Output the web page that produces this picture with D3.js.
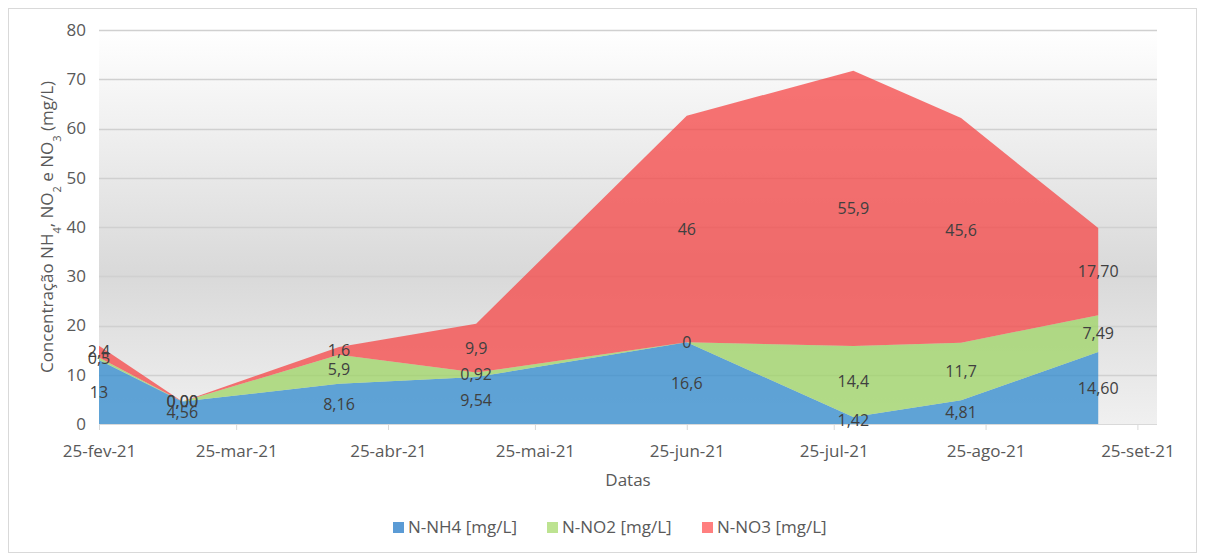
<!DOCTYPE html>
<html><head><meta charset="utf-8">
<script src="https://cdn.jsdelivr.net/npm/d3@7"></script>
<style>body{margin:0;background:#fff;} svg{display:block;font-family:"Open Sans",sans-serif;}</style>
</head><body>
<svg id="c" width="1205" height="554"></svg>
<script>
const dates = ["2021-02-25","2021-03-14","2021-04-15","2021-05-13","2021-06-25","2021-07-29","2021-08-20","2021-09-17"];
const nh4 = [13, 4.56, 8.16, 9.54, 16.6, 1.42, 4.81, 14.60];
const no2 = [0.5, 0.00, 5.9, 0.92, 0, 14.4, 11.7, 7.49];
const no3 = [2.4, 0.00, 1.6, 9.9, 46, 55.9, 45.6, 17.70];
const nh4Labels = ["13","4,56","8,16","9,54","16,6","1,42","4,81","14,60"];
const no2Labels = ["0,5","0,00","5,9","0,92","0","14,4","11,7","7,49"];
const no3Labels = ["2,4","0,00","1,6","9,9","46","55,9","45,6","17,70"];
const seriesNames = ["N-NH4 [mg/L]","N-NO2 [mg/L]","N-NO3 [mg/L]"];
const tickDates = ["2021-02-25","2021-03-25","2021-04-25","2021-05-25","2021-06-25","2021-07-25","2021-08-25","2021-09-25"];
const tickLabels = ["25-fev-21","25-mar-21","25-abr-21","25-mai-21","25-jun-21","25-jul-21","25-ago-21","25-set-21"];
const yTicks = [0,10,20,30,40,50,60,70,80];

const colors = ["rgb(47,137,206)","rgb(158,212,100)","rgb(245,70,70)"];
const legendColors = ["#5b9bd5","#bde391","#ff7f7f"];
const svg = d3.select("#c");
const parse = d3.utcParse("%Y-%m-%d");
const x = d3.scaleUtc().domain([parse("2021-02-25"), parse("2021-09-29")]).range([99, 1157]);
const y = d3.scaleLinear().domain([0,80]).range([424, 30]);

// chart border
svg.append("rect").attr("x",8.5).attr("y",8.5).attr("width",1188).attr("height",544)
  .attr("fill","#fff").attr("stroke","#d9d9d9");

// plot gradient
const defs = svg.append("defs");
const g = defs.append("linearGradient").attr("id","bg").attr("x1",0).attr("y1",0).attr("x2",0).attr("y2",1);
g.append("stop").attr("offset","0%").attr("stop-color","#ffffff");
g.append("stop").attr("offset","62%").attr("stop-color","#d9d9d9");
g.append("stop").attr("offset","100%").attr("stop-color","#f0f0f0");
svg.append("rect").attr("x",99).attr("y",30).attr("width",1157-99).attr("height",424-30).attr("fill","url(#bg)");

// gridlines
svg.append("g").selectAll("line").data(yTicks.filter(d=>d>0)).join("line")
  .attr("x1",99).attr("x2",1157).attr("y1",d=>Math.round(y(d))+0.5).attr("y2",d=>Math.round(y(d))+0.5)
  .attr("stroke","#d0d0d0").attr("stroke-width",1.3);

const rows = dates.map((d,i)=>({date:parse(d), a:nh4[i], b:no2[i], c:no3[i]}));
const stack = d3.stack().keys(["a","b","c"]);
const layers = stack(rows);
const area = d3.area().x(d=>x(d.data.date)).y0(d=>y(d[0])).y1(d=>y(d[1]));
svg.append("g").selectAll("path").data(layers).join("path")
  .attr("d",area).attr("fill",(d,i)=>colors[i]).attr("fill-opacity",0.75);

// x axis
const xAxis = d3.axisBottom(x).tickValues(tickDates.map(parse)).tickSize(6)
  .tickFormat((d,i)=>tickLabels[i]);
const gx = svg.append("g").attr("transform","translate(0,424)").call(xAxis);
gx.select(".domain").attr("d","M99,0.5H1157").attr("stroke","#d9d9d9");
gx.selectAll(".tick line").attr("stroke","#d9d9d9");
gx.selectAll(".tick text").attr("fill","#595959").attr("font-size","17px").attr("font-family","Open Sans").attr("dy","1.0em").attr("y",16);

// y axis labels
const gy = svg.append("g").attr("transform","translate(86,0)").call(d3.axisLeft(y).tickValues(yTicks).tickSize(0));
gy.select(".domain").remove();
gy.selectAll(".tick text").attr("fill","#595959").attr("font-size","17px").attr("font-family","Open Sans").attr("x",0);

// data labels
const labelSets = [nh4Labels, no2Labels, no3Labels];
const lg = svg.append("g").attr("font-size","16px").attr("fill","#404040").attr("text-anchor","middle");
layers.forEach((layer,k)=>{
  layer.forEach((d,i)=>{
    lg.append("text").attr("x",x(d.data.date)).attr("y",y((d[0]+d[1])/2)).attr("dy","0.35em").text(labelSets[k][i]);
  });
});

// axis titles
svg.append("text").attr("x",628).attr("y",480).attr("dy","0.35em").attr("text-anchor","middle")
  .attr("font-size","17px").attr("fill","#595959").text("Datas");
const yt = svg.append("text").attr("transform","translate(47,227) rotate(-90)").attr("text-anchor","middle")
  .attr("dy","0.35em").attr("font-size","17px").attr("fill","#595959");
yt.append("tspan").text("Concentração NH");
yt.append("tspan").attr("font-size","11px").attr("baseline-shift","sub").text("4");
yt.append("tspan").text(", NO");
yt.append("tspan").attr("font-size","11px").attr("baseline-shift","sub").text("2");
yt.append("tspan").text(" e NO");
yt.append("tspan").attr("font-size","11px").attr("baseline-shift","sub").text("3");
yt.append("tspan").text(" (mg/L)");

// legend
const legX = [393, 547, 702];
const leg = svg.append("g");
seriesNames.forEach((n,i)=>{
  leg.append("rect").attr("x",legX[i]).attr("y",522).attr("width",11).attr("height",11).attr("fill",legendColors[i]);
  leg.append("text").attr("x",legX[i]+15).attr("y",527.5).attr("dy","0.35em").attr("font-size","17px")
    .attr("fill","#595959").text(n);
});
</script>
</body></html>
